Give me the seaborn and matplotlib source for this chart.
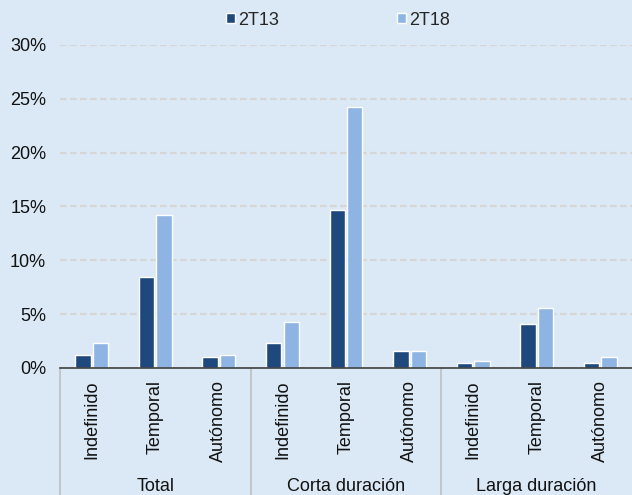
import pandas as pd
import seaborn as sns
import matplotlib.pyplot as plt
from matplotlib.ticker import FuncFormatter

# data (%)
groups = ["Total", "Corta duración", "Larga duración"]
contracts = ["Indefinido", "Temporal", "Autónomo"]
series = ["2T13", "2T18"]
vals_2t13 = [1.2, 8.45, 1.0, 2.3, 14.7, 1.6, 0.5, 4.1, 0.5]
vals_2t18 = [2.3, 14.2, 1.2, 4.3, 24.2, 1.6, 0.65, 5.6, 1.0]

keys = [f"{g}|{c}" for g in groups for c in contracts]
df = pd.DataFrame({
    "key": keys * 2,
    "serie": [series[0]] * 9 + [series[1]] * 9,
    "valor": vals_2t13 + vals_2t18,
})

bg = "#dbe9f6"
fs = 13
sns.set_style("white")
plt.rcParams["font.family"] = ["Liberation Sans", "DejaVu Sans"]

fig = plt.figure(figsize=(6.32, 4.95), dpi=100, facecolor=bg)
ax = fig.add_axes([0.095, 0.2566, 0.905, 0.6525])
ax.set_facecolor(bg)

sns.barplot(data=df, x="key", y="valor", hue="serie", order=keys,
            hue_order=series, palette=["#1f497d", "#8db4e2"], saturation=1,
            width=0.55, gap=0.12, ax=ax, zorder=3)

ax.set_ylim(0, 30)
ax.set_xlim(-0.5, 8.5)
ax.set_yticks(range(0, 31, 5))
ax.yaxis.set_major_formatter(FuncFormatter(lambda v, p: f"{v:.0f}%"))
ax.grid(axis="y", linestyle=(0, (3, 1.5)), color="#d6d6d6", linewidth=1.6, zorder=0)
ax.set_axisbelow(True)

for s in ["left", "right", "top"]:
    ax.spines[s].set_visible(False)
ax.spines["bottom"].set_color("#404040")
ax.spines["bottom"].set_linewidth(1.2)
ax.spines["bottom"].set_zorder(4)

ax.set_xticks(range(9))
ax.set_xticklabels(contracts * 3, rotation=90, fontsize=fs, color="#111111")
ax.tick_params(axis="x", length=0, pad=9)
ax.tick_params(axis="y", length=0, labelsize=fs, labelcolor="#111111", pad=10)
ax.set_xlabel("")
ax.set_ylabel("")

# group separators and group labels below the axis
for x in [-0.5, 2.5, 5.5]:
    ax.plot([x, x], [0, -0.42], transform=ax.get_xaxis_transform(),
            color="#bfbfbf", linewidth=1.2, clip_on=False)
for i, g in enumerate(groups):
    xd = 3 * i + 1
    xf = fig.transFigure.inverted().transform(ax.transData.transform((xd, 0)))[0]
    fig.text(xf, 4 / 495, g, ha="center", va="baseline",
             fontsize=fs, color="#111111")

leg = ax.legend(loc="center", bbox_to_anchor=(0.486, 1.077), ncol=2, frameon=False,
                fontsize=fs, handlelength=0.5, handleheight=0.5,
                handletextpad=0.2, columnspacing=6.5)

fig.savefig("out.png", dpi=100, facecolor=bg)
